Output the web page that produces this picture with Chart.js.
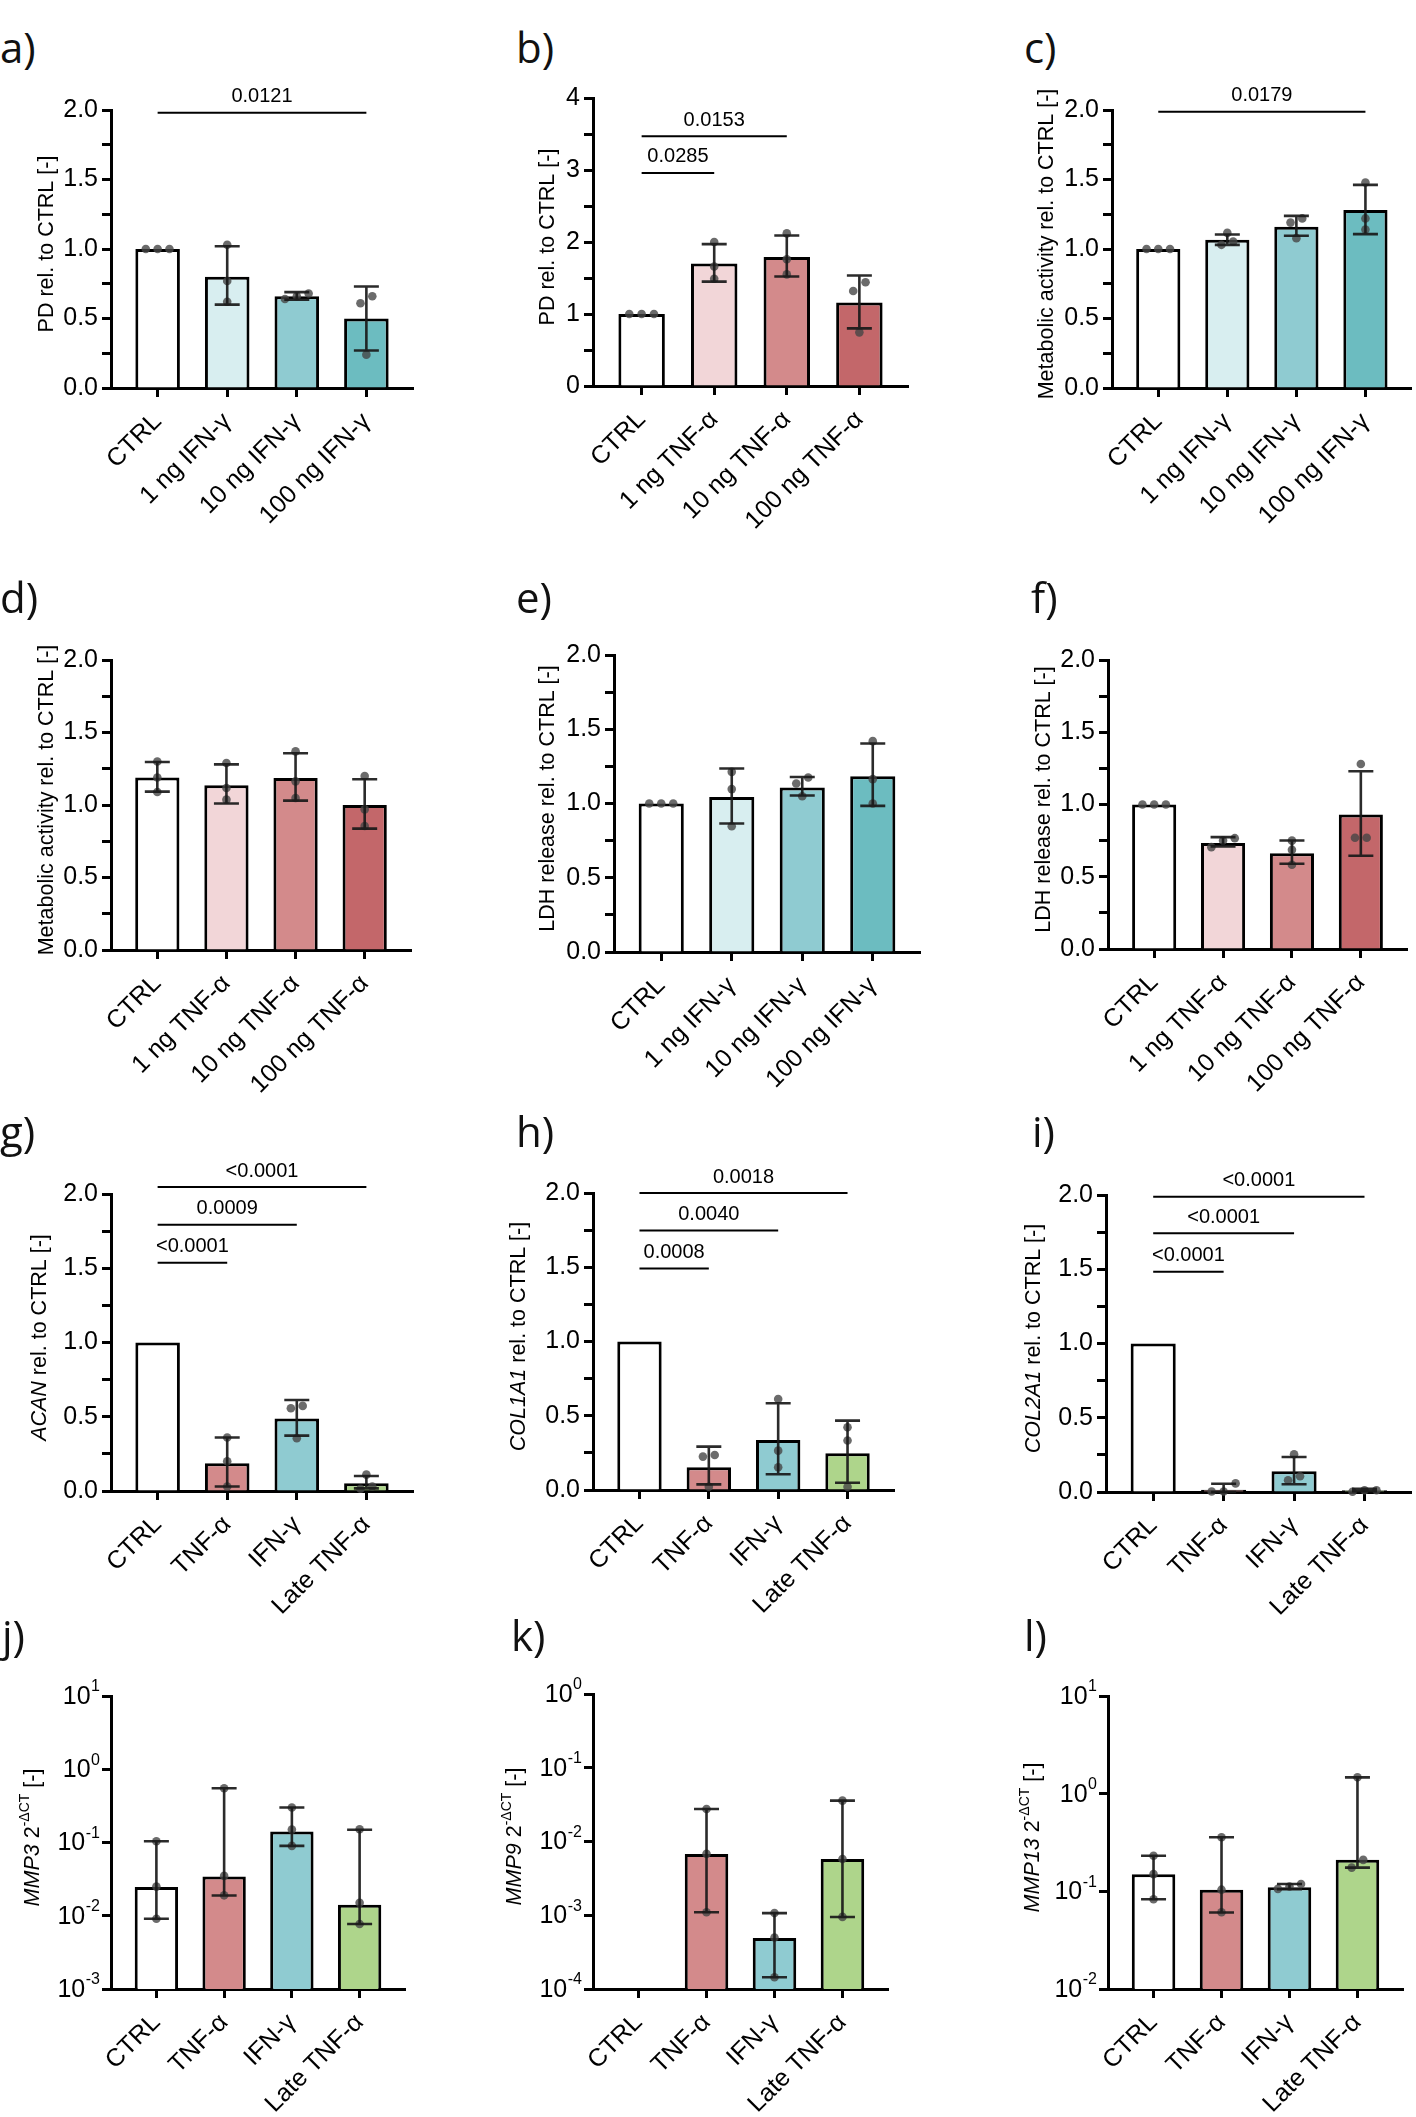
<!DOCTYPE html>
<html>
<head>
<meta charset="utf-8">
<title>PD / metabolic activity / LDH / gene expression panels</title>
<script src="https://cdn.jsdelivr.net/npm/chart.js@4.4.1/dist/chart.umd.min.js"></script>
<style>
  html, body { margin: 0; padding: 0; background: #fff; }
  #fig { position: relative; width: 1416px; height: 2117px; overflow: hidden; }
  #fig canvas { position: absolute; }
  .tag { position: absolute; font-family: 'Open Sans', sans-serif; font-size: 42px; line-height: 42px;
         color: #111; white-space: nowrap; }
</style>
</head>
<body>
<div id="fig"></div>
<script>
var FONT = "'Liberation Sans', Arial, Helvetica, sans-serif";

// 類別
var catsIFN = ['CTRL', '1 ng IFN-γ', '10 ng IFN-γ', '100 ng IFN-γ'];
var catsTNF = ['CTRL', '1 ng TNF-α', '10 ng TNF-α', '100 ng TNF-α'];
var catsGene = ['CTRL', 'TNF-α', 'IFN-γ', 'Late TNF-α'];

// a) PD, IFN-γ
var pdIfnMean = [1.00, 0.80, 0.66, 0.50];
var pdIfnHi = [1.00, 1.02, 0.69, 0.73];
var pdIfnLo = [1.00, 0.60, 0.635, 0.27];
var pdIfnDots = [[1, 1, 1], [1.03, 0.77, 0.62], [0.68, 0.66, 0.64], [0.66, 0.61, 0.24]];
var pdIfnSig = [{from: 0, to: 3, y: 1.98, p: '0.0121'}];

// b) PD, TNF-α
var pdTnfMean = [1.00, 1.70, 1.79, 1.16];
var pdTnfHi = [1.00, 1.97, 2.09, 1.535];
var pdTnfLo = [1.00, 1.45, 1.52, 0.80];
var pdTnfDots = [[1, 1, 1], [2.0, 1.66, 1.49], [2.12, 1.76, 1.55], [1.44, 1.32, 0.745]];
var pdTnfSig = [{from: 0, to: 1, y: 2.96, p: '0.0285'}, {from: 0, to: 2, y: 3.47, p: '0.0153'}];

// c) 代謝活性, IFN-γ
var maIfnMean = [1.00, 1.066, 1.16, 1.28];
var maIfnHi = [1.00, 1.104, 1.238, 1.461];
var maIfnLo = [1.00, 1.03, 1.095, 1.107];
var maIfnDots = [[1, 1, 1], [1.116, 1.03, 1.054], [1.22, 1.19, 1.078], [1.478, 1.22, 1.14]];
var maIfnSig = [{from: 0, to: 3, y: 1.988, p: '0.0179'}];

// d) 代謝活性, TNF-α
var maTnfMean = [1.19, 1.136, 1.186, 1.00];
var maTnfHi = [1.297, 1.28, 1.357, 1.178];
var maTnfLo = [1.092, 1.01, 1.03, 0.837];
var maTnfDots = [[1.30, 1.19, 1.09], [1.29, 1.117, 1.037], [1.37, 1.163, 1.048], [1.20, 0.97, 0.855]];

// e) LDH, IFN-γ
var ldhIfnMean = [1.00, 1.043, 1.108, 1.184];
var ldhIfnHi = [1.00, 1.236, 1.178, 1.404];
var ldhIfnLo = [1.00, 0.865, 1.054, 0.984];
var ldhIfnDots = [[1, 1, 1], [1.213, 1.097, 0.847], [1.175, 1.135, 1.049], [1.42, 1.164, 1.0]];

// f) LDH, TNF-α
var ldhTnfMean = [1.00, 0.733, 0.663, 0.93];
var ldhTnfHi = [1.00, 0.774, 0.751, 1.23];
var ldhTnfLo = [1.00, 0.71, 0.59, 0.645];
var ldhTnfDots = [[1, 1, 1], [0.767, 0.751, 0.705], [0.75, 0.686, 0.583], [1.28, 0.77, 0.77]];

// g) ACAN
var acanMean = [1.00, 0.187, 0.488, 0.052];
var acanHi = [null, 0.36, 0.613, 0.101];
var acanLo = [null, 0.03, 0.373, 0.018];
var acanDots = [[], [0.36, 0.20, 0.03], [0.573, 0.557, 0.355], [0.11, 0.03, 0.015]];
var acanSig = [{from: 0, to: 1, y: 1.537, p: '<0.0001'}, {from: 0, to: 2, y: 1.793, p: '0.0009'},
               {from: 0, to: 3, y: 2.047, p: '<0.0001'}];

// h) COL1A1
var col1Mean = [1.00, 0.153, 0.337, 0.247];
var col1Hi = [null, 0.292, 0.584, 0.467];
var col1Lo = [null, 0.038, 0.106, 0.049];
var col1Dots = [[], [0.236, 0.225, 0.022], [0.613, 0.265, 0.153], [0.422, 0.333, 0.022]];
var col1Sig = [{from: 0, to: 1, y: 1.492, p: '0.0008'}, {from: 0, to: 2, y: 1.748, p: '0.0040'},
               {from: 0, to: 3, y: 2.0, p: '0.0018'}];

// i) COL2A1
var col2Mean = [1.00, 0.015, 0.139, 0.012];
var col2Hi = [null, 0.056, 0.236, 0.022];
var col2Lo = [null, 0, 0.052, 0.005];
var col2Dots = [[], [0.058, 0.003, 0.003], [0.254, 0.079, 0.106], [0.002, 0.012, 0.012]];
var col2Sig = [{from: 0, to: 1, y: 1.483, p: '<0.0001'}, {from: 0, to: 2, y: 1.742, p: '<0.0001'},
               {from: 0, to: 3, y: 1.989, p: '<0.0001'}];

// j) MMP3 (中位數 + 範圍)
var mmp3Med = [0.0246, 0.0344, 0.141, 0.0141];
var mmp3Hi = [0.104, 0.55, 0.30, 0.149];
var mmp3Lo = [0.0091, 0.0189, 0.090, 0.0077];
var mmp3Dots = [[0.104, 0.025, 0.0091], [0.55, 0.035, 0.019], [0.30, 0.15, 0.09], [0.152, 0.015, 0.0077]];

// k) MMP9
var mmp9Med = [null, 0.00677, 0.00049, 0.0058];
var mmp9Hi = [null, 0.0276, 0.00107, 0.0358];
var mmp9Lo = [null, 0.0011, 0.000144, 0.000946];
var mmp9Dots = [[], [0.0276, 0.0068, 0.0011], [0.00107, 0.0005, 0.000144], [0.0358, 0.0058, 0.00095]];

// l) MMP13
var mmp13Med = [0.15, 0.104, 0.110, 0.21];
var mmp13Hi = [0.231, 0.358, 0.119, 1.47];
var mmp13Lo = [0.083, 0.0608, 0.105, 0.175];
var mmp13Dots = [[0.231, 0.15, 0.083], [0.358, 0.104, 0.061], [0.119, 0.112, 0.106], [1.47, 0.21, 0.175]];

// 顏色
var colIFN = ['#ffffff', '#d8eef0', '#8fcbd1', '#6cbcc0'];
var colTNF = ['#ffffff', '#f2d6d8', '#d38a8b', '#c3676a'];
var colGene = ['#ffffff', '#d38a8b', '#8fcbd1', '#aed58b'];

// 版面 (畫布互相重疊, 背景透明)
var colX = [0, 480, 960], colW = [480, 480, 456];
var rowY = [0, 560, 1100, 1620], rowH = [590, 570, 550, 497];
var tagY = [26, 576, 1110, 1614];

var tPD = [{t: 'PD rel. to CTRL [-]'}];
var tMA = [{t: 'Metabolic activity rel. to CTRL [-]'}];
var tLDH = [{t: 'LDH release rel. to CTRL [-]'}];
function geneTitle(g) { return [{t: g, it: true}, {t: ' rel. to CTRL [-]'}]; }
function ctTitle(g) { return [{t: g, it: true}, {t: ' 2'}, {t: '-ΔCT', sup: true}, {t: ' [-]'}]; }

var panels = [
    {tag: 'a)', tagX: 0, col: 0, row: 0, axisX: 111, axisEnd: 413, top: 110, bottom: 388, titleOff: 64,
     cats: catsIFN, colors: colIFN, mean: pdIfnMean, hi: pdIfnHi, lo: pdIfnLo, dots: pdIfnDots, sig: pdIfnSig,
     yMax: 2, yStep: 0.25, yLabel: 0.5, yDec: 1, title: tPD},
    {tag: 'b)', tagX: 516, col: 1, row: 0, axisX: 593, axisEnd: 908, top: 98, bottom: 386, titleOff: 45,
     cats: catsTNF, colors: colTNF, mean: pdTnfMean, hi: pdTnfHi, lo: pdTnfLo, dots: pdTnfDots, sig: pdTnfSig,
     yMax: 4, yStep: 0.5, yLabel: 1, yDec: 0, title: tPD},
    {tag: 'c)', tagX: 1024, col: 2, row: 0, axisX: 1112, axisEnd: 1415, top: 110, bottom: 388, titleOff: 65,
     cats: catsIFN, colors: colIFN, mean: maIfnMean, hi: maIfnHi, lo: maIfnLo, dots: maIfnDots, sig: maIfnSig,
     yMax: 2, yStep: 0.25, yLabel: 0.5, yDec: 1, title: tMA},
    {tag: 'd)', tagX: 0, col: 0, row: 1, axisX: 111, axisEnd: 411, top: 660, bottom: 950, titleOff: 64,
     cats: catsTNF, colors: colTNF, mean: maTnfMean, hi: maTnfHi, lo: maTnfLo, dots: maTnfDots, sig: [],
     yMax: 2, yStep: 0.25, yLabel: 0.5, yDec: 1, title: tMA},
    {tag: 'e)', tagX: 516, col: 1, row: 1, axisX: 614, axisEnd: 920, top: 655, bottom: 952, titleOff: 66,
     cats: catsIFN, colors: colIFN, mean: ldhIfnMean, hi: ldhIfnHi, lo: ldhIfnLo, dots: ldhIfnDots, sig: [],
     yMax: 2, yStep: 0.25, yLabel: 0.5, yDec: 1, title: tLDH},
    {tag: 'f)', tagX: 1031, col: 2, row: 1, axisX: 1108, axisEnd: 1407, top: 660, bottom: 949, titleOff: 64,
     cats: catsTNF, colors: colTNF, mean: ldhTnfMean, hi: ldhTnfHi, lo: ldhTnfLo, dots: ldhTnfDots, sig: [],
     yMax: 2, yStep: 0.25, yLabel: 0.5, yDec: 1, title: tLDH},
    {tag: 'g)', tagX: 0, col: 0, row: 2, axisX: 111, axisEnd: 413, top: 1194, bottom: 1491, titleOff: 71,
     cats: catsGene, colors: colGene, mean: acanMean, hi: acanHi, lo: acanLo, dots: acanDots, sig: acanSig,
     yMax: 2, yStep: 0.25, yLabel: 0.5, yDec: 1, title: geneTitle('ACAN')},
    {tag: 'h)', tagX: 516, col: 1, row: 2, axisX: 593, axisEnd: 894, top: 1193, bottom: 1490, titleOff: 74,
     cats: catsGene, colors: colGene, mean: col1Mean, hi: col1Hi, lo: col1Lo, dots: col1Dots, sig: col1Sig,
     yMax: 2, yStep: 0.25, yLabel: 0.5, yDec: 1, title: geneTitle('COL1A1')},
    {tag: 'i)', tagX: 1032, col: 2, row: 2, axisX: 1106, axisEnd: 1412, top: 1195, bottom: 1492, titleOff: 72,
     cats: catsGene, colors: colGene, mean: col2Mean, hi: col2Hi, lo: col2Lo, dots: col2Dots, sig: col2Sig,
     yMax: 2, yStep: 0.25, yLabel: 0.5, yDec: 1, title: geneTitle('COL2A1')},
    {tag: 'j)', tagX: 2, col: 0, row: 3, axisX: 111, axisEnd: 405, top: 1696, bottom: 1989, titleOff: 78,
     cats: catsGene, colors: colGene, mean: mmp3Med, hi: mmp3Hi, lo: mmp3Lo, dots: mmp3Dots, sig: [],
     log: true, yMin: 1e-3, yMax: 10, title: ctTitle('MMP3')},
    {tag: 'k)', tagX: 511, col: 1, row: 3, axisX: 593, axisEnd: 888, top: 1694, bottom: 1989, titleOff: 78,
     cats: catsGene, colors: colGene, mean: mmp9Med, hi: mmp9Hi, lo: mmp9Lo, dots: mmp9Dots, sig: [],
     log: true, yMin: 1e-4, yMax: 1, title: ctTitle('MMP9')},
    {tag: 'l)', tagX: 1024, col: 2, row: 3, axisX: 1108, axisEnd: 1403, top: 1696, bottom: 1989, titleOff: 75,
     cats: catsGene, colors: colGene, mean: mmp13Med, hi: mmp13Hi, lo: mmp13Lo, dots: mmp13Dots, sig: [],
     log: true, yMin: 1e-2, yMax: 10, title: ctTitle('MMP13')}
];

// 相同數值的點橫向散開
function spreadDots(groups, span, isLog) {
    var pts = [];
    var tol = span * 0.03;
    groups.forEach(function (vals, i) {
        var keyed = vals.map(function (v) { return {v: v, k: isLog ? Math.log10(v) : v}; })
            .sort(function (a, b) { return a.k - b.k; });
        var clusters = [];
        keyed.forEach(function (p) {
            var last = clusters[clusters.length - 1];
            if (last && p.k - last[last.length - 1].k < tol) last.push(p);
            else clusters.push([p]);
        });
        clusters.forEach(function (c) {
            c.forEach(function (p, j) {
                pts.push({x: i + (j - (c.length - 1) / 2) * 0.17, y: p.v});
            });
        });
    });
    return pts;
}

// 誤差線、顯著性標記、Y 軸標題、對數刻度標籤
function makeExtras(p) {
    var CAP = 12.5;
    return {
        id: 'extras',
        afterDatasetsDraw: function (chart) {
            var ctx = chart.ctx, xs = chart.scales.x, ys = chart.scales.y;
            ctx.save();
            ctx.strokeStyle = 'rgba(25,25,25,0.92)';
            ctx.lineWidth = 2.6;
            p.mean.forEach(function (m, i) {
                var hi = p.hi[i], lo = p.lo[i];
                if (hi == null || lo == null || hi === lo) return;
                var x = xs.getPixelForValue(i);
                var yHi = ys.getPixelForValue(hi);
                var yLo = ys.getPixelForValue(lo);
                ctx.beginPath();
                ctx.moveTo(x, yHi); ctx.lineTo(x, yLo);
                ctx.moveTo(x - CAP, yHi); ctx.lineTo(x + CAP, yHi);
                ctx.moveTo(x - CAP, yLo); ctx.lineTo(x + CAP, yLo);
                ctx.stroke();
            });
            ctx.strokeStyle = '#000';
            ctx.fillStyle = '#000';
            ctx.lineWidth = 2;
            ctx.font = '20px ' + FONT;
            ctx.textAlign = 'center';
            ctx.textBaseline = 'middle';
            p.sig.forEach(function (s) {
                var x1 = xs.getPixelForValue(s.from), x2 = xs.getPixelForValue(s.to);
                var y = ys.getPixelForValue(s.y);
                ctx.beginPath(); ctx.moveTo(x1, y); ctx.lineTo(x2, y); ctx.stroke();
                ctx.fillText(s.p, (x1 + x2) / 2, y - 16);
            });
            ctx.restore();
        },
        afterDraw: function (chart) {
            var ctx = chart.ctx, ca = chart.chartArea, ys = chart.scales.y;
            ctx.save();
            ctx.fillStyle = '#000';
            if (p.log) {
                ctx.textAlign = 'right';
                ctx.textBaseline = 'middle';
                ys.ticks.forEach(function (t) {
                    var y = ys.getPixelForValue(t.value);
                    var e = String(Math.round(Math.log10(t.value)));
                    var xr = ca.left - 11;
                    ctx.font = '16px ' + FONT;
                    var ew = ctx.measureText(e).width;
                    ctx.fillText(e, xr, y - 9);
                    ctx.font = '25px ' + FONT;
                    ctx.fillText('10', xr - ew - 0.5, y + 1);
                });
            }
            // Y 軸標題
            var segs = p.title.map(function (s) {
                var size = s.sup ? 14 : 21.5;
                return {t: s.t, sup: s.sup, font: (s.it ? 'italic ' : '') + size + 'px ' + FONT};
            });
            var total = 0;
            segs.forEach(function (s) { ctx.font = s.font; s.w = ctx.measureText(s.t).width; total += s.w; });
            ctx.translate(ca.left - p.titleOff, (ca.top + ca.bottom) / 2 - 5);
            ctx.rotate(-Math.PI / 2);
            ctx.textAlign = 'left';
            ctx.textBaseline = 'middle';
            var x = -total / 2;
            segs.forEach(function (s) {
                ctx.font = s.font;
                ctx.fillText(s.t, x, s.sup ? -8 : 0);
                x += s.w;
            });
            ctx.restore();
        }
    };
}

function buildPanel(p) {
    var fig = document.getElementById('fig');
    var x0 = colX[p.col], y0 = rowY[p.row], w = colW[p.col], h = rowH[p.row];

    var tag = document.createElement('div');
    tag.className = 'tag';
    tag.textContent = p.tag;
    tag.style.left = p.tagX + 'px';
    tag.style.top = tagY[p.row] + 'px';
    fig.appendChild(tag);

    var canvas = document.createElement('canvas');
    canvas.width = w;
    canvas.height = h;
    canvas.style.left = x0 + 'px';
    canvas.style.top = y0 + 'px';
    canvas.style.width = w + 'px';
    canvas.style.height = h + 'px';
    fig.appendChild(canvas);

    var yW = p.axisX - x0;
    var xH = y0 + h - p.bottom;
    var span = p.log ? Math.log10(p.yMax) - Math.log10(p.yMin) : p.yMax;

    var yScale;
    if (p.log) {
        yScale = {
            type: 'logarithmic', min: p.yMin, max: p.yMax,
            afterBuildTicks: function (s) {
                var t = [];
                for (var e = Math.round(Math.log10(p.yMin)); e <= Math.round(Math.log10(p.yMax)); e++) {
                    t.push({value: Math.pow(10, e), major: true});
                }
                s.ticks = t;
            },
            afterFit: function (s) { s.width = yW; },
            ticks: {callback: function () { return ''; }},
            grid: {drawOnChartArea: false, tickLength: 9, tickWidth: 3, tickColor: '#000'},
            border: {color: '#000', width: 3}
        };
    } else {
        yScale = {
            type: 'linear', min: 0, max: p.yMax,
            afterFit: function (s) { s.width = yW; },
            ticks: {
                stepSize: p.yStep, autoSkip: false, padding: 4, color: '#000',
                font: {family: FONT, size: 25},
                callback: function (v) {
                    var r = v / p.yLabel;
                    return Math.abs(r - Math.round(r)) < 1e-6 ? Number(v).toFixed(p.yDec) : '';
                }
            },
            grid: {drawOnChartArea: false, tickLength: 9, tickWidth: 3, tickColor: '#000'},
            border: {color: '#000', width: 3}
        };
    }

    new Chart(canvas, {
        type: 'bar',
        data: {
            datasets: [
                {
                    type: 'scatter',
                    data: spreadDots(p.dots, span, p.log),
                    pointRadius: 4.3,
                    pointBackgroundColor: 'rgba(70,70,70,0.8)',
                    pointBorderWidth: 0,
                    borderWidth: 0,
                    clip: false,
                    order: 1
                },
                {
                    type: 'bar',
                    data: p.mean.map(function (v, i) { return {x: i, y: v}; }),
                    backgroundColor: p.colors,
                    borderColor: '#000',
                    borderWidth: 3,
                    barPercentage: 0.64,
                    categoryPercentage: 1,
                    order: 2
                }
            ]
        },
        options: {
            responsive: false,
            animation: false,
            devicePixelRatio: 1,
            events: [],
            layout: {padding: {left: 0, top: p.top - y0, right: x0 + w - p.axisEnd, bottom: 0}},
            plugins: {legend: {display: false}, tooltip: {enabled: false}},
            scales: {
                x: {
                    type: 'linear', min: -0.67, max: 3.67, offset: false,
                    afterBuildTicks: function (s) {
                        s.ticks = p.cats.map(function (c, i) { return {value: i}; });
                    },
                    afterFit: function (s) { s.height = xH; },
                    ticks: {
                        autoSkip: false, minRotation: 45, maxRotation: 45, padding: 10, color: '#000',
                        font: {family: FONT, size: 25},
                        callback: function (v) { return p.cats[Math.round(v)]; }
                    },
                    grid: {drawOnChartArea: false, offset: false, tickLength: 9, tickWidth: 3, tickColor: '#000'},
                    border: {color: '#000', width: 3}
                },
                y: yScale
            }
        },
        plugins: [makeExtras(p)]
    });
}

panels.forEach(buildPanel);
</script>
</body>
</html>
